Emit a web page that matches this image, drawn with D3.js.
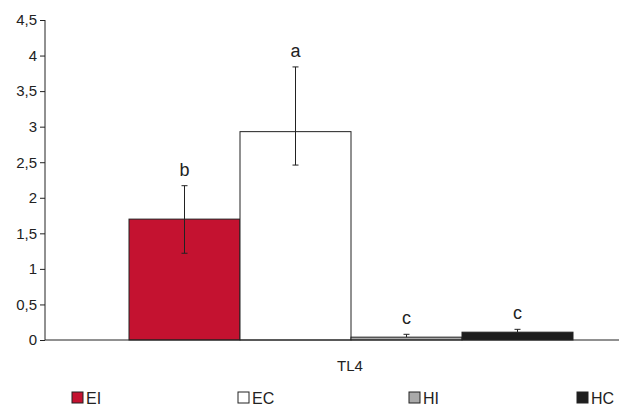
<!DOCTYPE html>
<html>
<head>
<meta charset="utf-8">
<script src="https://cdn.jsdelivr.net/npm/d3@7"></script>
<style>
body { margin: 0; background: white; }
text { font-family: "Liberation Sans", Arial, sans-serif; fill: #222; }
</style>
</head>
<body>
<script>
// data
var groups = ['EI', 'EC', 'HI', 'HC']
var means = [1.70, 2.93, 0.04, 0.11]
var errUp = [2.17, 3.84, 0.08, 0.15]
var errLow = [1.22, 2.46, 0.04, 0.11]
var letters = ['b', 'a', 'c', 'c']
var colors = ['#c41230', '#ffffff', '#aaaaaa', '#1e1e1e']
var category = ['TL4']
var yTicks = [0, 0.5, 1, 1.5, 2, 2.5, 3, 3.5, 4, 4.5]

var width = 619,
	height = 408

var svg = d3.select('body').append('svg')
	.attr('width', width)
	.attr('height', height)

var y = d3.scaleLinear()
	.domain([0, 4.5])
	.range([340, 20])

var x0 = d3.scaleBand()
	.domain(category)
	.range([45, 657])

var x1 = d3.scaleBand()
	.domain(groups)
	.range([x0(category[0]) + 84, x0(category[0]) + x0.bandwidth() - 84])

var fmt = d => String(d).replace('.', ',')

// y axis
var yAxis = svg.append('g')
	.attr('transform', 'translate(45,0)')
	.call(d3.axisLeft(y).tickValues(yTicks).tickFormat(fmt).tickSize(5).tickPadding(3))
yAxis.select('.domain').attr('d', 'M0,' + y(4.5) + 'V' + y(0)).attr('stroke', '#222')
yAxis.selectAll('.tick line').attr('stroke', '#222')
yAxis.selectAll('.tick text')
	.style('font-family', '"Liberation Sans", Arial, sans-serif')
	.style('font-size', '15px')
	.attr('fill', '#222')

// bars
svg.selectAll('rect.bar')
	.data(groups)
	.enter()
	.append('rect')
		.attr('class', 'bar')
		.attr('x', d => x1(d))
		.attr('width', x1.bandwidth())
		.attr('y', (d, i) => y(means[i]))
		.attr('height', (d, i) => y(0) - y(means[i]))
		.attr('fill', (d, i) => colors[i])
		.attr('stroke', '#222')
		.attr('stroke-width', 1)

// x axis line
svg.append('line')
	.attr('x1', 45).attr('x2', width)
	.attr('y1', y(0)).attr('y2', y(0))
	.attr('stroke', '#222')

// error bars
var eb = svg.selectAll('g.err')
	.data(groups)
	.enter()
	.append('g')
		.attr('transform', d => 'translate(' + (x1(d) + x1.bandwidth() / 2) + ',0)')

eb.append('line')
	.attr('y1', (d, i) => y(errUp[i]))
	.attr('y2', (d, i) => y(errLow[i]))
	.attr('stroke', '#222')
eb.append('line')
	.attr('x1', -3).attr('x2', 3)
	.attr('y1', (d, i) => y(errUp[i])).attr('y2', (d, i) => y(errUp[i]))
	.attr('stroke', '#222')
eb.append('line')
	.attr('x1', -3).attr('x2', 3)
	.attr('y1', (d, i) => y(errLow[i])).attr('y2', (d, i) => y(errLow[i]))
	.attr('stroke', '#222')
	.attr('opacity', (d, i) => errLow[i] < means[i] ? 1 : 0)

eb.append('text')
	.attr('y', (d, i) => y(errUp[i]) - 10)
	.attr('text-anchor', 'middle')
	.style('font-size', '18px')
	.text((d, i) => letters[i])

// category label
svg.append('text')
	.attr('x', x0(category[0]) + x0.bandwidth() / 2 - 1)
	.attr('y', 371)
	.attr('text-anchor', 'middle')
	.style('font-size', '15px')
	.text(category[0])

// legend
var legX = [72, 238, 409, 577]
var leg = svg.selectAll('g.leg')
	.data(groups)
	.enter()
	.append('g')
		.attr('transform', (d, i) => 'translate(' + legX[i] + ',392)')
leg.append('rect')
	.attr('width', 11).attr('height', 11)
	.attr('fill', (d, i) => colors[i])
	.attr('stroke', '#222')
leg.append('text')
	.attr('x', 14).attr('y', 12)
	.style('font-size', '16px')
	.text(d => d)
</script>
</body>
</html>
